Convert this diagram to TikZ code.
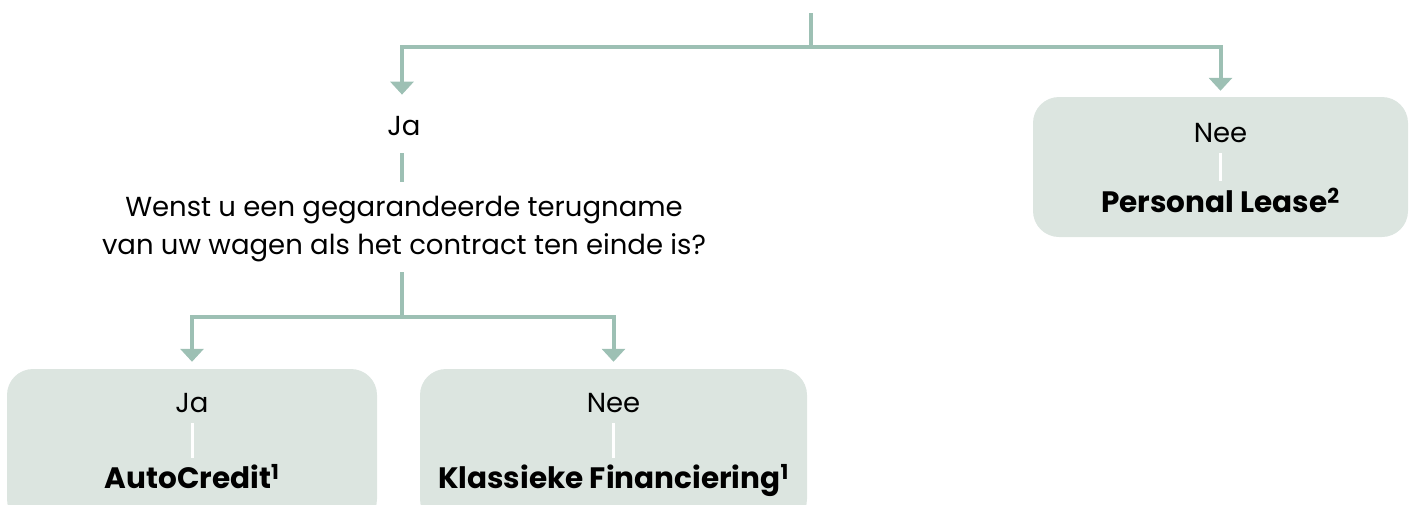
\documentclass[tikz,border=0pt]{standalone}
\usepackage{fontspec}
\setmainfont{Poppins}
\usetikzlibrary{arrows.meta}
\definecolor{flowline}{HTML}{9DC0B4}
\definecolor{flowbox}{HTML}{DCE5E0}
\tikzset{
  flow/.style={draw=flowline, line width=4pt},
  flowarrow/.style={flow, -{Triangle[width=23pt,length=13pt]}},
  answerbox/.style={fill=flowbox, rounded corners=26pt, inner sep=0pt},
  txt/.style={anchor=base, inner sep=0pt, text=black, font=\fontsize{27.5}{38}\selectfont},
  answer/.style={txt, font=\fontsize{29.5}{38}\selectfont\bfseries},
  divider/.style={draw=white, line width=3pt},
}
\begin{document}
\begin{tikzpicture}[x=1pt, y=-1pt]
  \useasboundingbox (0,0) rectangle (1413,504);

  % boxes
  \node[answerbox, minimum width=375pt, minimum height=140pt] (lease) at (1220.5,167) {};
  \node[answerbox, minimum width=370pt, minimum height=156pt] (credit) at (192,447) {};
  \node[answerbox, minimum width=387pt, minimum height=156pt] (classic) at (613.5,447) {};

  % texts
  \node[txt] (ja) at (404,135) {Ja};
  \node[txt, anchor=north, align=center] (question) at (404,196)
    {Wenst u een gegarandeerde terugname\\van uw wagen als het contract ten einde is?};

  \node[txt] (leaseno) at ([yshift=-46pt]lease.north) {Nee};
  \node[answer] (leasename) at ([yshift=-116pt]lease.north) {Personal Lease\textsuperscript{2}};
  \node[txt] (creditja) at ([yshift=-44pt]credit.north) {Ja};
  \node[answer] (creditname) at ([yshift=-120pt]credit.north) {AutoCredit\textsuperscript{1}};
  \node[txt] (classicno) at ([yshift=-44pt]classic.north) {Nee};
  \node[answer] (classicname) at ([yshift=-120pt]classic.north) {Klassieke Financiering\textsuperscript{1}};

  % connectors
  \coordinate (root) at (811,13);
  \coordinate (fork) at (811,47);
  \coordinate (fork2) at (402,317);
  \draw[flow] (root) -- (fork);
  \draw[flowarrow] (fork) -| ([xshift=-2pt, yshift=21pt]ja.north);
  \draw[flowarrow, shorten >=6pt] (fork) -| (lease.north);
  \draw[flow, shorten <=18pt, shorten >=14pt] ([xshift=-2pt]ja.south) -- ([xshift=-2pt]ja.south |- question.north);
  \draw[flow, shorten <=10pt] (fork2 |- question.south) -- (fork2);
  \draw[flowarrow, shorten >=7pt] (fork2) -| (credit.north);
  \draw[flowarrow, shorten >=7pt] (fork2) -| (classic.north);

  \draw[divider, shorten <=10pt, shorten >=7pt] (leaseno.south) -- (leasename.north);
  \draw[divider, shorten <=10pt, shorten >=7pt] (creditja.south) -- (creditname.north);
  \draw[divider, shorten <=10pt, shorten >=7pt] (classicno.south) -- (classicname.north);
\end{tikzpicture}
\end{document}
